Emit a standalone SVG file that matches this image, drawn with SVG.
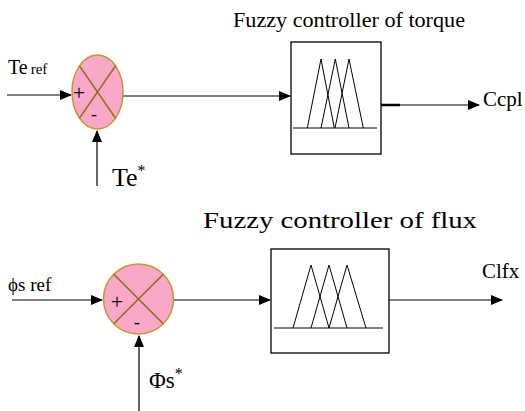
<svg xmlns="http://www.w3.org/2000/svg" width="525" height="411" viewBox="0 0 525 411">
<style>
.t{font-family:"Liberation Serif","Times New Roman",serif;fill:#000}
.sum{fill:#F9A8C8;stroke:#C8952B;stroke-width:1.5}
.x{stroke:#8B6A14;stroke-width:1.5}
.w{stroke:#000;stroke-width:1.2;fill:none}
.box{fill:#fff;stroke:#000;stroke-width:1.3}
.mf{stroke:#000;stroke-width:1;fill:none}
</style>
<defs>
<marker id="ah" markerWidth="12" markerHeight="10" refX="11" refY="5" orient="auto" markerUnits="userSpaceOnUse">
<path d="M0,0 L12,5 L0,10 Z" fill="#000"/>
</marker>
</defs>
<rect width="525" height="411" fill="#fff"/>
<g id="connectors">
<line class="w" x1="7" y1="95" x2="71" y2="95" marker-end="url(#ah)"/>
<line class="w" x1="97" y1="186" x2="97" y2="131" marker-end="url(#ah)"/>
<line class="w" x1="123" y1="96" x2="290" y2="96" marker-end="url(#ah)"/>
<line class="w" x1="381" y1="105" x2="479" y2="105" marker-end="url(#ah)"/>
<line x1="381" y1="105" x2="400" y2="105" stroke="#000" stroke-width="2.5"/>
<line class="w" x1="12" y1="300" x2="102" y2="300" marker-end="url(#ah)"/>
<line class="w" x1="139" y1="411" x2="139" y2="336" marker-end="url(#ah)"/>
<line class="w" x1="174" y1="300" x2="270" y2="300" marker-end="url(#ah)"/>
<line class="w" x1="389" y1="300" x2="502" y2="300" marker-end="url(#ah)"/>
</g>
<g id="sum1">
<ellipse class="sum" cx="97.5" cy="92" rx="25.5" ry="37"/>
<line class="x" x1="79.5" y1="65.8" x2="115.5" y2="118.2"/>
<line class="x" x1="115.5" y1="65.8" x2="79.5" y2="118.2"/>
<text class="t" x="79" y="100" font-size="22" text-anchor="middle">+</text>
<text class="t" x="94" y="120" font-size="18" text-anchor="middle">-</text>
</g>
<g id="fuzzy1">
<text class="t" x="233" y="27" font-size="21" textLength="232" lengthAdjust="spacingAndGlyphs">Fuzzy controller of torque</text>
<rect class="box" x="291" y="42" width="90" height="112"/>
<line class="mf" x1="293" y1="128" x2="377" y2="128"/>
<polyline class="mf" points="307.3,128 321,59 334.3,128"/>
<polyline class="mf" points="321,128 335.3,59 349,128"/>
<polyline class="mf" points="335,128 349,59 363.3,128"/>
</g>
<g id="sum2">
<circle class="sum" cx="138.5" cy="299" r="35"/>
<line class="x" x1="113.8" y1="274.3" x2="163.2" y2="323.7"/>
<line class="x" x1="163.2" y1="274.3" x2="113.8" y2="323.7"/>
<text class="t" x="117" y="309" font-size="22" text-anchor="middle">+</text>
<text class="t" x="137" y="328" font-size="18" text-anchor="middle">-</text>
</g>
<g id="fuzzy2">
<text class="t" x="203" y="228" font-size="24" textLength="274" lengthAdjust="spacingAndGlyphs">Fuzzy controller of flux</text>
<rect class="box" x="271" y="249" width="118" height="104"/>
<line class="mf" x1="274" y1="328" x2="383" y2="328"/>
<polyline class="mf" points="293,328 311,265 329,328"/>
<polyline class="mf" points="311,328 329,265 347,328"/>
<polyline class="mf" points="329,328 347,265 366,328"/>
</g>
<g id="labels">
<text class="t" x="8" y="74" font-size="20">Te<tspan font-size="15" dx="3">ref</tspan></text>
<text class="t" x="112" y="186" font-size="26">Te<tspan font-size="16" dy="-10">*</tspan></text>
<text class="t" x="483" y="106" font-size="21">Ccpl</text>
<text class="t" x="8" y="291" font-size="19">ϕs ref</text>
<text class="t" x="149" y="388" font-size="23">Φs<tspan font-size="16" dy="-9">*</tspan></text>
<text class="t" x="482" y="278" font-size="21">Clfx</text>
</g>
</svg>
